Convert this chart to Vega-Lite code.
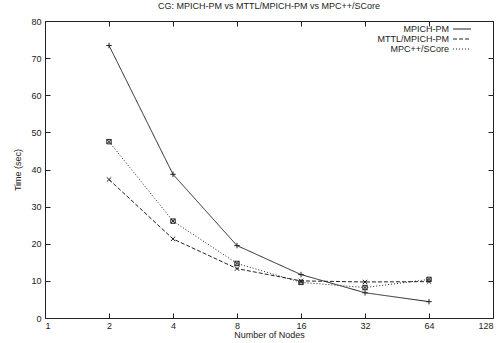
{
  "$schema": "https://vega.github.io/schema/vega-lite/v6.json",
  "width": 448,
  "height": 297,
  "autosize": {"type": "none"},
  "padding": {"left": 45, "top": 21, "right": 3, "bottom": 25},
  "background": "white",
  "title": {"text": "CG: MPICH-PM vs MTTL/MPICH-PM vs MPC++/SCore", "font": "Liberation Sans", "fontSize": 9, "fontWeight": "normal", "color": "#222", "offset": 6},
  "config": {
    "view": {"stroke": "#222", "strokeWidth": 1},
    "axis": {"grid": false, "domain": false, "tickColor": "#222", "labelFont": "Liberation Sans", "labelFontSize": 9, "labelColor": "#222", "titleFont": "Liberation Sans", "titleFontSize": 9, "titleFontWeight": "normal", "titleColor": "#222"}
  },
  "data": {"values": [
    {"Nodes": 2, "Time": 73.4, "Series": "MPICH-PM"},
    {"Nodes": 4, "Time": 38.7, "Series": "MPICH-PM"},
    {"Nodes": 8, "Time": 19.5, "Series": "MPICH-PM"},
    {"Nodes": 16, "Time": 11.7, "Series": "MPICH-PM"},
    {"Nodes": 32, "Time": 6.8, "Series": "MPICH-PM"},
    {"Nodes": 64, "Time": 4.4, "Series": "MPICH-PM"},
    {"Nodes": 2, "Time": 37.3, "Series": "MTTL/MPICH-PM"},
    {"Nodes": 4, "Time": 21.3, "Series": "MTTL/MPICH-PM"},
    {"Nodes": 8, "Time": 13.3, "Series": "MTTL/MPICH-PM"},
    {"Nodes": 16, "Time": 10.0, "Series": "MTTL/MPICH-PM"},
    {"Nodes": 32, "Time": 9.7, "Series": "MTTL/MPICH-PM"},
    {"Nodes": 64, "Time": 9.8, "Series": "MTTL/MPICH-PM"},
    {"Nodes": 2, "Time": 47.5, "Series": "MPC++/SCore"},
    {"Nodes": 4, "Time": 26.1, "Series": "MPC++/SCore"},
    {"Nodes": 8, "Time": 14.7, "Series": "MPC++/SCore"},
    {"Nodes": 16, "Time": 9.6, "Series": "MPC++/SCore"},
    {"Nodes": 32, "Time": 8.2, "Series": "MPC++/SCore"},
    {"Nodes": 64, "Time": 10.4, "Series": "MPC++/SCore"}
  ]},
  "resolve": {"axis": {"x": "independent", "y": "independent"}, "legend": {"shape": "independent", "strokeDash": "independent"}},
  "layer": [
    {
      "mark": {"type": "line", "color": "#222", "strokeWidth": 1},
      "encoding": {
        "x": {"field": "Nodes", "type": "quantitative", "scale": {"type": "log", "base": 2, "domain": [1, 128]},
              "axis": {"orient": "bottom", "values": [1, 2, 4, 8, 16, 32, 64, 128], "format": "d", "title": "Number of Nodes", "tickSize": -5, "labelPadding": 8, "titlePadding": 0}},
        "y": {"field": "Time", "type": "quantitative", "scale": {"domain": [0, 80], "nice": false},
              "axis": {"orient": "left", "values": [0, 10, 20, 30, 40, 50, 60, 70, 80], "title": "Time (sec)", "tickSize": -5, "labelPadding": 9, "titlePadding": 8}},
        "strokeDash": {"field": "Series", "type": "nominal",
          "scale": {"domain": ["MPICH-PM", "MTTL/MPICH-PM", "MPC++/SCore"], "range": [[1, 0], [4, 2], [1, 2]]},
          "legend": {"title": null, "orient": "none", "legendX": 412, "legendY": 3, "labelFont": "Liberation Sans", "labelFontSize": 9, "labelColor": "#222", "labelAlign": "right", "labelOffset": -18, "symbolType": "M-2,0L2,0", "symbolSize": 81, "symbolStrokeColor": "#222", "symbolStrokeWidth": 1, "rowPadding": 0, "labelLimit": 200}}
      }
    },
    {
      "mark": {"type": "point", "filled": false, "color": "#222", "strokeWidth": 1, "size": 30, "opacity": 1},
      "encoding": {
        "x": {"field": "Nodes", "type": "quantitative", "axis": null},
        "y": {"field": "Time", "type": "quantitative", "axis": null},
        "shape": {"field": "Series", "type": "nominal", "legend": null,
          "scale": {"domain": ["MPICH-PM", "MTTL/MPICH-PM", "MPC++/SCore"],
                    "range": ["M-1,0L1,0M0,-1L0,1", "M-0.8,-0.8L0.8,0.8M-0.8,0.8L0.8,-0.8", "M-0.8,-0.8L0.8,-0.8L0.8,0.8L-0.8,0.8ZM-0.8,-0.8L0.8,0.8M-0.8,0.8L0.8,-0.8"]}}
      }
    },
    {
      "mark": {"type": "point", "opacity": 0},
      "encoding": {
        "x": {"field": "Nodes", "type": "quantitative",
              "axis": {"orient": "top", "values": [1, 2, 4, 8, 16, 32, 64, 128], "labels": false, "title": null, "tickSize": -5}},
        "y": {"field": "Time", "type": "quantitative",
              "axis": {"orient": "right", "values": [0, 10, 20, 30, 40, 50, 60, 70, 80], "labels": false, "title": null, "tickSize": -5}}
      }
    }
  ]
}
